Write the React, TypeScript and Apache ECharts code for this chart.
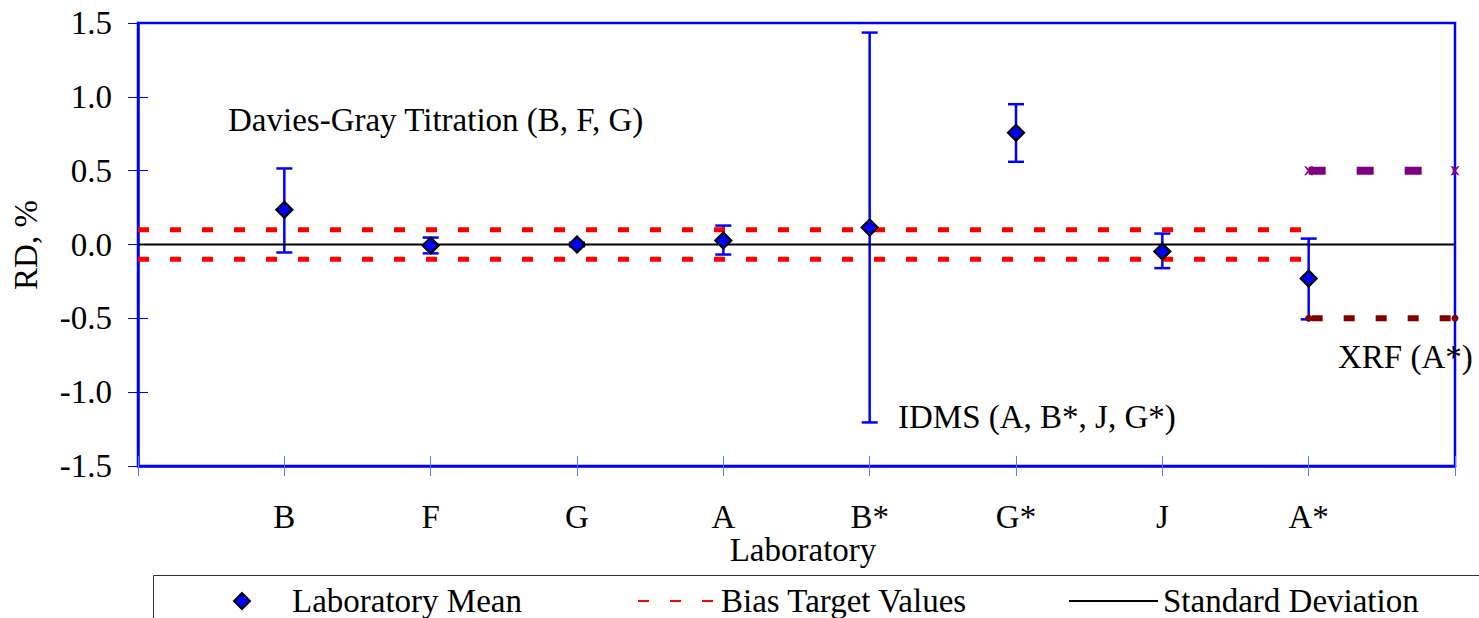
import React, { useEffect, useRef } from "react";
import * as echarts from "echarts";

const categories = ["B", "F", "G", "A", "B*", "G*", "J", "A*"];
const labMeans = [0.235, -0.007, 0.0, 0.027, 0.115, 0.757, -0.047, -0.23];
const errLow = [-0.054, -0.06, -0.012, -0.068, -1.205, 0.56, -0.16, -0.507];
const errHigh = [0.515, 0.047, 0.012, 0.128, 1.435, 0.95, 0.074, 0.04];
const yTicks = [-1.5, -1.0, -0.5, 0.0, 0.5, 1.0, 1.5];
const biasRange = [0, 8];
const biasValues = [0.1, -0.1];
const stdRange = [0, 9];
const stdValue = 0;
const xrfRange = [8, 9];
const xrfUpper = 0.5;
const xrfLower = -0.5;

const FONT = "Liberation Serif, Times New Roman, serif";
const FS = 33;

export default function App() {
  const ref = useRef<HTMLDivElement>(null);
  useEffect(() => {
    const chart = echarts.init(ref.current!, null, { renderer: "svg" });
    const xPos = categories.map((_, i) => i + 1);
    const textStyle = { fontFamily: FONT, fontSize: FS, color: "#000", lineHeight: 34 };
    const legendBase = {
      orient: "horizontal",
      padding: 0,
      selectedMode: false,
      itemHeight: 16,
      textStyle,
    };
    const lineLegend = { ...legendBase, itemStyle: { opacity: 0 } };
    const option: any = {
      animation: false,
      backgroundColor: "#fff",
      grid: {
        left: 138,
        right: 24,
        top: 23,
        bottom: 152,
        show: true,
        borderColor: "#0000ff",
        borderWidth: 2.5,
        backgroundColor: "transparent",
      },
      xAxis: [
        {
          type: "value",
          min: 0,
          max: 9,
          interval: 1,
          position: "bottom",
          axisLine: { show: true, onZero: false, lineStyle: { color: "#0000ff", width: 2.5 } },
          axisTick: { show: true, inside: false, length: 10, lineStyle: { color: "#5a78ff", width: 1 } },
          splitLine: { show: false },
          axisLabel: {
            margin: 34,
            fontFamily: FONT,
            fontSize: FS,
            color: "#000",
            formatter: (v: number) => categories[v - 1] ?? "",
          },
        },
        {
          type: "value",
          min: 0,
          max: 9,
          interval: 1,
          position: "bottom",
          axisLine: { show: false, onZero: false },
          axisTick: { show: true, inside: true, length: 10, lineStyle: { color: "#5a78ff", width: 1 } },
          splitLine: { show: false },
          axisLabel: { show: false },
        },
      ],
      yAxis: [
        {
          type: "value",
          min: -1.5,
          max: 1.5,
          interval: 0.5,
          position: "left",
          axisLine: { show: true, onZero: false, lineStyle: { color: "#0000ff", width: 2.5 } },
          axisTick: { show: true, inside: false, length: 10, lineStyle: { color: "#0000ff", width: 1 } },
          splitLine: { show: false },
          axisLabel: {
            margin: 26,
            fontFamily: FONT,
            fontSize: FS,
            color: "#000",
            formatter: (v: number) => {
              const t = yTicks.find((y) => Math.abs(y - v) < 1e-9);
              return (t ?? v).toFixed(1);
            },
          },
        },
        {
          type: "value",
          min: -1.5,
          max: 1.5,
          interval: 0.5,
          position: "left",
          axisLine: { show: false, onZero: false },
          axisTick: { show: true, inside: true, length: 10, lineStyle: { color: "#0000ff", width: 1 } },
          splitLine: { show: false },
          axisLabel: { show: false },
        },
      ],
      legend: [
        {
          ...legendBase,
          data: [{ name: "Laboratory Mean", icon: "diamond" }],
          left: 233,
          top: 584,
          itemWidth: 16,
          textStyle: { ...textStyle, padding: [0, 0, 0, 37] },
        },
        { ...lineLegend, data: ["Bias Target Values"], left: 637, top: 584, itemWidth: 78 },
        { ...lineLegend, data: ["Standard Deviation"], left: 1068, top: 584, itemWidth: 89 },
        {
          ...legendBase,
          data: [{ name: "Series 5", icon: "none" }],
          left: 233,
          top: 612,
          itemWidth: 16,
          textStyle: { ...textStyle, padding: [0, 0, 0, 37] },
        },
        { ...lineLegend, data: ["Series 6"], left: 637, top: 612, itemWidth: 78 },
      ],
      series: [
        {
          type: "custom",
          name: "Error",
          z: 1,
          data: xPos.map((x, i) => [x, errLow[i], errHigh[i]]),
          renderItem: (params: any, api: any) => {
            const x = api.value(0);
            const lo = api.coord([x, api.value(1)]);
            const hi = api.coord([x, api.value(2)]);
            const cap = 8;
            const style = { stroke: "#0000ff", lineWidth: 2.5 };
            return {
              type: "group",
              children: [
                { type: "line", shape: { x1: lo[0], y1: lo[1], x2: hi[0], y2: hi[1] }, style },
                { type: "line", shape: { x1: lo[0] - cap, y1: lo[1], x2: lo[0] + cap, y2: lo[1] }, style },
                { type: "line", shape: { x1: hi[0] - cap, y1: hi[1], x2: hi[0] + cap, y2: hi[1] }, style },
              ],
            };
          },
        },
        {
          type: "line",
          name: "Bias Target Values",
          z: 2,
          symbol: "none",
          data: biasRange.map((x) => [x, biasValues[0]]),
          lineStyle: { color: "#ff0000", width: 5, type: [11, 21] },
          itemStyle: { color: "#ff0000" },
        },
        {
          type: "line",
          name: "Bias Target Values",
          z: 2,
          symbol: "none",
          data: biasRange.map((x) => [x, biasValues[1]]),
          lineStyle: { color: "#ff0000", width: 5, type: [11, 21] },
          itemStyle: { color: "#ff0000" },
        },
        {
          type: "line",
          name: "Standard Deviation",
          z: 3,
          symbol: "none",
          data: stdRange.map((x) => [x, stdValue]),
          lineStyle: { color: "#000", width: 2, type: "solid" },
          itemStyle: { color: "#000" },
        },
        {
          type: "line",
          name: "Series 5",
          z: 3,
          symbol: "path://M0,0 L2,0 L5,3 L8,0 L10,0 L6,5 L10,10 L8,10 L5,7 L2,10 L0,10 L4,5 Z",
          symbolSize: 9,
          showSymbol: true,
          clip: false,
          data: xrfRange.map((x) => [x, xrfUpper]),
          lineStyle: { color: "#800080", width: 8, type: [17, 31] },
          itemStyle: { color: "#800080" },
        },
        {
          type: "line",
          name: "Series 6",
          z: 3,
          symbol: "circle",
          symbolSize: 7,
          showSymbol: true,
          clip: false,
          data: xrfRange.map((x) => [x, xrfLower]),
          lineStyle: { color: "#800000", width: 6, type: [11, 21], dashOffset: -3 },
          itemStyle: { color: "#800000" },
        },
        {
          type: "scatter",
          name: "Laboratory Mean",
          z: 5,
          symbol: "diamond",
          symbolSize: 16,
          data: xPos.map((x, i) => [x, labMeans[i]]),
          itemStyle: { color: "#0000ff", borderColor: "#000", borderWidth: 2.2, opacity: 1 },
        },
      ],
      graphic: [
        {
          type: "rect",
          z: -1,
          shape: { x: 153.5, y: 575.5, width: 1400, height: 100 },
          style: { fill: "#fff", stroke: "#333", lineWidth: 1 },
          silent: true,
        },
        {
          type: "text",
          x: 26,
          y: 245,
          rotation: Math.PI / 2,
          style: { text: "RD, %", font: `${FS}px ${FONT}`, fill: "#000", align: "center", verticalAlign: "middle" },
        },
        {
          type: "text",
          x: 803,
          y: 550,
          style: { text: "Laboratory", font: `${FS}px ${FONT}`, fill: "#000", align: "center", verticalAlign: "middle" },
        },
        {
          type: "text",
          x: 228,
          y: 120,
          style: { text: "Davies-Gray Titration (B, F, G)", font: `${FS}px ${FONT}`, fill: "#000", align: "left", verticalAlign: "middle" },
        },
        {
          type: "text",
          x: 898,
          y: 417,
          style: { text: "IDMS (A, B*, J, G*)", font: `${FS}px ${FONT}`, fill: "#000", align: "left", verticalAlign: "middle" },
        },
        {
          type: "text",
          x: 1338,
          y: 357,
          style: { text: "XRF (A*)", font: `${FS}px ${FONT}`, fill: "#000", align: "left", verticalAlign: "middle" },
        },
      ],
    };
    chart.setOption(option);
    return () => chart.dispose();
  }, []);
  return (
    <div
      ref={ref}
      style={{ position: "absolute", left: 0, top: 0, width: 1479, height: 618, background: "#fff" }}
    />
  );
}
